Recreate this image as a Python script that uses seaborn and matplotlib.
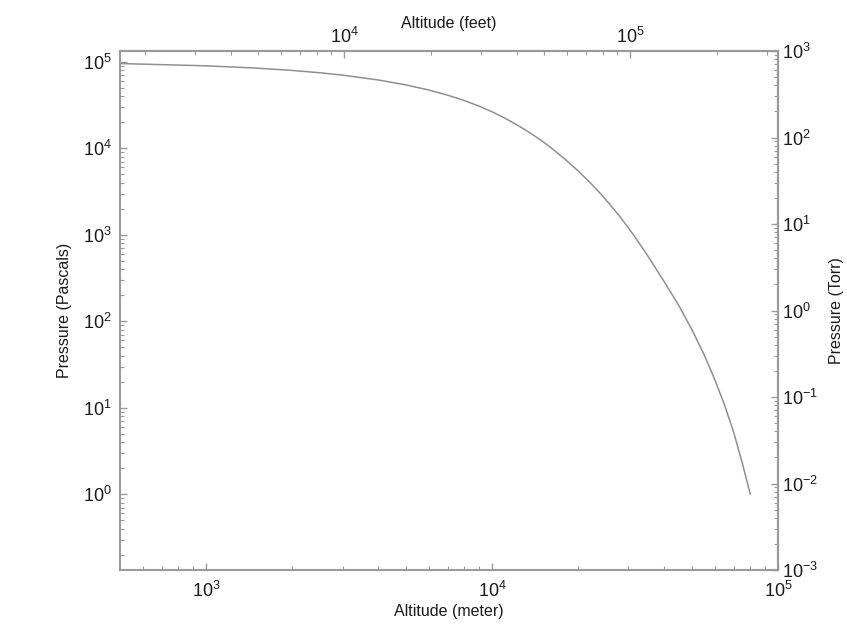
import matplotlib
matplotlib.use("Agg")
from matplotlib import pyplot as plt
from matplotlib.ticker import LogFormatterMathtext, LogLocator
import seaborn as sns

# standard atmosphere
altitude_m = [500, 1000, 1500, 2000, 2500, 3000, 4000, 5000, 6000, 7000, 8000,
              9000, 10000, 11000, 12000, 13000, 14000, 15000, 16000, 18000,
              20000, 22000, 24000, 26000, 28000, 30000, 32000, 35000, 40000,
              45000, 50000, 55000, 60000, 65000, 70000, 75000, 80000]
pressure_pa = [95461, 89876, 84559, 79501, 74691, 70121, 61660, 54048, 47217,
               41105, 35651, 30742, 26436, 22632, 19330, 16510, 14102, 12045,
               10287, 7480, 5480, 4030, 2970, 2190, 1620, 1200, 890, 575, 287,
               152, 80, 42, 21.5, 10.8, 5.2, 2.3, 1.0]

M_TO_FT = 3.28084
PA_PER_TORR = 133.322

sns.set_theme(style="ticks")
plt.rcParams['font.family'] = ['Liberation Sans', 'DejaVu Sans']
plt.rcParams['mathtext.default'] = 'regular'
plt.rcParams['axes.unicode_minus'] = False

axis_grey = '#9a9a9a'
text_col = '#1a1a1a'

fig = plt.figure(figsize=(8.47, 6.37), dpi=100)
ax = fig.add_axes([120 / 847, 1 - 570 / 637, 658 / 847, 519 / 637])

sns.lineplot(x=altitude_m, y=pressure_pa, ax=ax, color='#8f8f8f', linewidth=1.1, sort=False)
ax.set_xscale('log')
ax.set_yscale('log')
ax.set_xlim(500, 1e5)
ax.set_ylim(1e-3 * PA_PER_TORR, 1e3 * PA_PER_TORR)

sec_x = ax.secondary_xaxis('top', functions=(lambda m: m * M_TO_FT, lambda f: f / M_TO_FT))
sec_y = ax.secondary_yaxis('right', functions=(lambda p: p / PA_PER_TORR, lambda t: t * PA_PER_TORR))

for a in (ax, sec_x, sec_y):
    for sp in a.spines.values():
        sp.set_color(axis_grey)
        sp.set_linewidth(1.5)

for axis in (ax.xaxis, ax.yaxis, sec_x.xaxis, sec_y.yaxis):
    axis.set_major_locator(LogLocator(base=10, numticks=20))
    axis.set_minor_locator(LogLocator(base=10, subs=range(2, 10), numticks=20))
    axis.set_major_formatter(LogFormatterMathtext())
    axis.set_minor_formatter(plt.NullFormatter())

ax.tick_params(which='both', direction='in', color=axis_grey, labelcolor=text_col,
               labelsize=13, top=False, right=False)
ax.tick_params(which='major', length=5, width=1.0)
ax.tick_params(which='minor', length=3, width=0.8)
ax.tick_params(axis='x', pad=8)
ax.tick_params(axis='y', pad=6)
for a in (sec_x, sec_y):
    a.tick_params(which='both', direction='in', color=axis_grey, labelcolor=text_col, labelsize=13)
    a.tick_params(which='major', length=5, width=1.0, pad=3)
    a.tick_params(which='minor', length=3, width=0.8)

ax.set_xlabel('Altitude (meter)', fontsize=11.5, color=text_col, labelpad=2)
ax.set_ylabel('Pressure (Pascals)', fontsize=11.5, color=text_col, labelpad=8)
sec_x.set_xlabel('Altitude (feet)', fontsize=11.5, color=text_col, labelpad=-1)
sec_y.set_ylabel('Pressure (Torr)', fontsize=11.5, color=text_col, labelpad=8)

fig.savefig('out.png', dpi=100, facecolor='white')
